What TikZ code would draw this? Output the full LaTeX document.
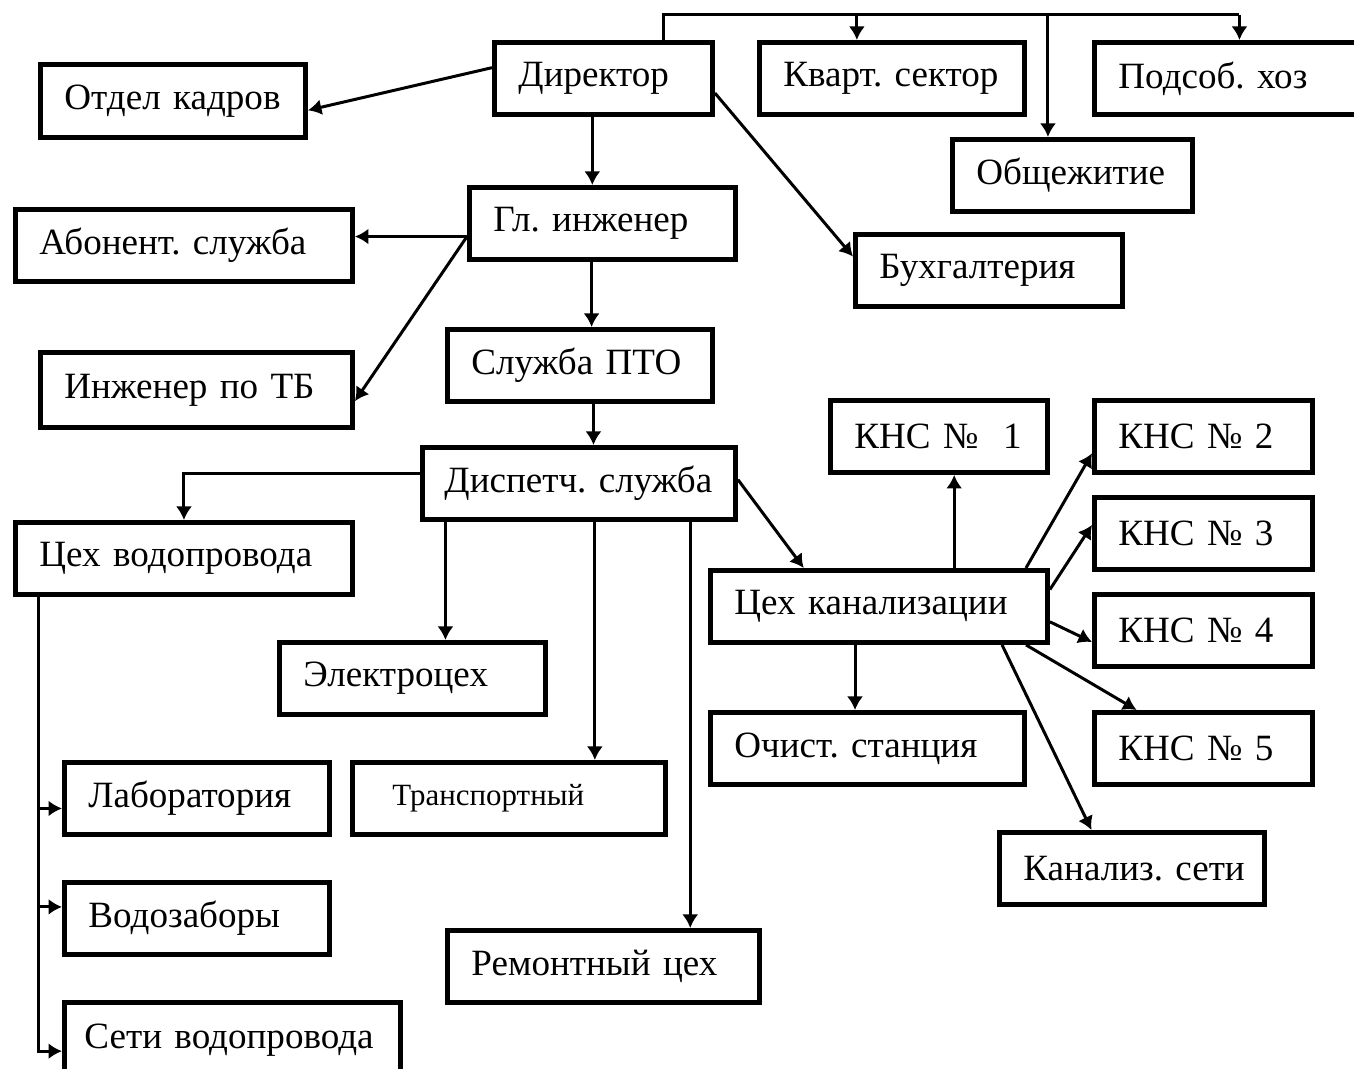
\documentclass[tikz,border=0pt]{standalone}
\usepackage{fontspec}
\setmainfont{Liberation Serif}
\usetikzlibrary{calc,arrows.meta}

\begin{document}
\begin{tikzpicture}

	% styles
	\tikzstyle{box}=[draw,line width=1.4pt,anchor=north west,inner xsep=0.24cm,inner ysep=0pt,minimum height=0.72cm,align=left,font=\fontsize{10.55}{12}\selectfont\frenchspacing]
	\tikzstyle{link}=[line width=0.85pt]
	\tikzstyle{arrow}=[line width=0.85pt,-{Latex[length=1.35mm,width=1.6mm]}]

	% page size of the original scheme
	\useasboundingbox (0,0) rectangle (13.54,-10.69);

	% director and the boxes round it
	\node[box,text width=1.70cm] (dir) at (4.92,-0.40) {Директор};
	\node[box,text width=2.17cm] (kvart) at (7.57,-0.40) {Кварт.~сектор};
	\node[box,text width=2.42cm] (podsob) at (10.92,-0.40) {Подсоб.~хоз};
	\node[box,text width=1.92cm] (obsch) at (9.50,-1.37) {Общежитие};
	\node[box,text width=2.17cm,minimum height=0.73cm] (kadr) at (0.38,-0.62) {Отдел~кадров};
	\node[box,text width=2.19cm] (buh) at (8.53,-2.32) {Бухгалтерия};

	% chief engineer branch
	\node[box,text width=2.18cm] (glinzh) at (4.67,-1.85) {Гл.~инженер};
	\node[box,text width=2.89cm] (abon) at (0.13,-2.07) {Абонент. служба};
	\node[box,text width=2.64cm,minimum height=0.75cm] (tb) at (0.38,-3.50) {Инженер по ТБ};
	\node[box,text width=2.17cm] (pto) at (4.45,-3.27) {Служба ПТО};
	\node[box,text width=2.69cm,inner xsep=0.22cm] (disp) at (4.20,-4.45) {Диспетч.~служба};

	% dispatcher branch
	\node[box,text width=2.89cm] (vodoprov) at (0.13,-5.20) {Цех водопровода};
	\node[box,text width=2.18cm] (elektro) at (2.77,-6.40) {Электроцех};
	\node[box,text width=2.33cm,inner xsep=0.40cm,font=\fontsize{8.8}{10}\selectfont] (trans) at (3.50,-7.60) {Транспортный};
	\node[box,text width=2.64cm] (remont) at (4.45,-9.28) {Ремонтный цех};

	% sewer branch
	\node[box,text width=2.89cm] (kanal) at (7.08,-5.68) {Цех~канализации};
	\node[box,text width=1.69cm] (kns1) at (8.28,-3.98) {КНС №~~1};
	\node[box,text width=1.70cm] (kns2) at (10.92,-3.98) {КНС № 2};
	\node[box,text width=1.70cm] (kns3) at (10.92,-4.95) {КНС № 3};
	\node[box,text width=1.70cm] (kns4) at (10.92,-5.92) {КНС № 4};
	\node[box,text width=1.70cm] (kns5) at (10.92,-7.10) {КНС № 5};
	\node[box,text width=2.17cm] (ksety) at (9.97,-8.30) {Канализ.~сети};
	\node[box,text width=2.66cm] (ochist) at (7.08,-7.10) {Очист. станция};

	% water supply branch
	\node[box,text width=2.17cm] (lab) at (0.62,-7.60) {Лаборатория};
	\node[box,text width=2.17cm] (vodozab) at (0.62,-8.80) {Водозаборы};
	\node[box,text width=2.96cm,inner xsep=0.20cm,minimum height=0.75cm] (seti) at (0.62,-10.00) {Сети~водопровода};

	% bus line over the top row
	\coordinate (busL) at ($(dir.north west)+(1.71,0.25)$);
	\coordinate (busR) at ($(podsob.north)+(0,0.25)$);
	\draw[link] (dir.north -| busL) -- (busL) -- (busR);
	\draw[arrow] (busR) -- (podsob.north);
	\coordinate (kv) at ($(kvart.north west)!0.37!(kvart.north east)$);
	\draw[arrow] (kv |- busL) -- (kv);
	\coordinate (ob) at ($(obsch.north west)!0.40!(obsch.north east)$);
	\draw[arrow] (ob |- busL) -- (ob);

	% director to the side boxes and down
	\draw[arrow] ($(dir.north west)!0.36!(dir.south west)$) -- ($(kadr.north east)!0.62!(kadr.south east)$);
	\draw[arrow] ($(dir.north east)!0.69!(dir.south east)$) -- ($(buh.north west)!0.32!(buh.south west)$);
	\coordinate (d1) at ($(dir.south west)!0.45!(dir.south east)$);
	\draw[arrow] (d1) -- (d1 |- glinzh.north);

	% chief engineer outputs
	\coordinate (g1) at ($(glinzh.north west)!0.67!(glinzh.south west)$);
	\draw[arrow] (g1) -- (g1 -| abon.east);
	\draw[arrow] (g1) -- ($(tb.north east)!0.64!(tb.south east)$);
	\coordinate (g2) at ($(glinzh.south west)!0.46!(glinzh.south east)$);
	\draw[arrow] (g2) -- (g2 |- pto.north);
	\coordinate (p1) at ($(pto.south west)!0.55!(pto.south east)$);
	\draw[arrow] (p1) -- (p1 |- disp.north);

	% dispatcher outputs
	\draw[arrow] ($(disp.north west)!0.37!(disp.south west)$) -| (vodoprov.north);
	\coordinate (s1) at ($(disp.south west)!0.08!(disp.south east)$);
	\draw[arrow] (s1) -- (s1 |- elektro.north);
	\coordinate (s2) at ($(disp.south west)!0.55!(disp.south east)$);
	\draw[arrow] (s2) -- (s2 |- trans.north);
	\coordinate (s3) at ($(disp.south west)!0.85!(disp.south east)$);
	\draw[arrow] (s3) -- (s3 |- remont.north);
	\draw[arrow] ($(disp.north east)!0.45!(disp.south east)$) -- ($(kanal.north west)!0.28!(kanal.north east)$);

	% sewer workshop outputs
	\coordinate (k1) at ($(kanal.north west)!0.72!(kanal.north east)$);
	\draw[arrow] (k1) -- (k1 |- kns1.south);
	\draw[arrow] ($(kanal.north west)!0.93!(kanal.north east)$) -- ($(kns2.north west)!0.72!(kns2.south west)$);
	\draw[arrow] ($(kanal.north east)!0.28!(kanal.south east)$) -- ($(kns3.north west)!0.39!(kns3.south west)$);
	\draw[arrow] ($(kanal.north east)!0.70!(kanal.south east)$) -- ($(kns4.north west)!0.65!(kns4.south west)$);
	\draw[arrow] ($(kanal.south west)!0.93!(kanal.south east)$) -- ($(kns5.north west)!0.20!(kns5.north east)$);
	\draw[arrow] ($(kanal.south west)!0.86!(kanal.south east)$) -- ($(ksety.north west)!0.35!(ksety.north east)$);
	\coordinate (k2) at ($(kanal.south west)!0.43!(kanal.south east)$);
	\draw[arrow] (k2) -- (k2 |- ochist.north);

	% water supply outputs
	\coordinate (w1) at ($(vodoprov.south west)!0.074!(vodoprov.south east)$);
	\draw[arrow] (w1) |- ($(seti.north west)!0.64!(seti.south west)$);
	\coordinate (w2) at ($(lab.north west)!0.63!(lab.south west)$);
	\draw[arrow] (w2 -| w1) -- (w2);
	\coordinate (w3) at ($(vodozab.north west)!0.35!(vodozab.south west)$);
	\draw[arrow] (w3 -| w1) -- (w3);

\end{tikzpicture}
\end{document}
